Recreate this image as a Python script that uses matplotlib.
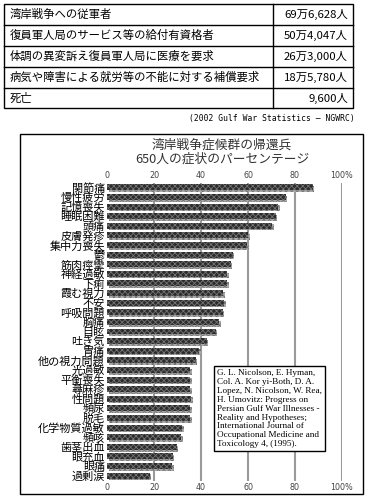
import matplotlib
matplotlib.use("Agg")
import matplotlib.pyplot as plt
import matplotlib.patheffects as pe
from matplotlib.patches import Rectangle

plt.rcParams['font.family'] = ['Noto Sans CJK JP', 'DejaVu Sans']
plt.rcParams['hatch.linewidth'] = 0.6

# table at the top
table_labels = ["湾岸戦争への従軍者",
                "復員軍人局のサービス等の給付有資格者",
                "体調の異変訴え復員軍人局に医療を要求",
                "病気や障害による就労等の不能に対する補償要求",
                "死亡"]
table_values = ["69万6,628人", "50万4,047人", "26万3,000人", "18万5,780人", "9,600人"]
source = "(2002 Gulf War Statistics — NGWRC)"

# bar chart
symptoms = ["関節痛", "慢性疲労", "記憶喪失", "睡眠困難", "頭痛", "皮膚発疹", "集中力喪失",
            "鬱", "筋肉痙攣", "神経過敏", "下痢", "霞む視力", "不安", "呼吸問題", "胸痛",
            "目眩", "吐き気", "胃痛", "他の視力問題", "光過敏", "平衡喪失", "蕁麻疹",
            "性問題", "頻尿", "脱毛", "化学物質過敏", "頻咳", "歯茎出血", "眼充血",
            "眼痛", "過剰涙"]
percent = [87.5, 76, 72.7, 71.8, 70.4, 60, 59.6,
           53.5, 52.6, 51, 51, 49.5, 49.8, 49.2, 47.8,
           46.2, 42.4, 39.2, 37.7, 35.4, 35.3, 35.5,
           35.7, 35.5, 35.4, 32.1, 31.5, 29.7, 27.9,
           27.7, 18.1]
xticks = [0, 20, 40, 60, 80, 100]
xticklabels = ["0", "20", "40", "60", "80", "100%"]
chart_title = "湾岸戦争症候群の帰還兵\n650人の症状のパーセンテージ"
reference = ("G. L. Nicolson, E. Hyman,\nCol. A. Kor yi-Both, D. A.\n"
             "Lopez, N. Nicolson, W. Rea,\nH. Umovitz: Progress on\n"
             "Persian Gulf War Illnesses -\nReality and Hypotheses;\n"
             "International Journal of\nOccupational Medicine and\n"
             "Toxicology 4, (1995).")

W, H = 368, 504
fig = plt.figure(figsize=(W / 100, H / 100), dpi=100)

# pixel overlay for table, frame and captions
ov = fig.add_axes([0, 0, 1, 1])
ov.set_xlim(0, W)
ov.set_ylim(H, 0)
ov.axis("off")

rows_y = [4, 25, 46, 67, 88, 108]
ov.add_patch(Rectangle((4, 4), 349, 104, fill=False, lw=1, ec="black"))
for y in rows_y[1:-1]:
    ov.plot([4, 353], [y, y], color="black", lw=1)
ov.plot([273, 273], [4, 108], color="black", lw=1)
for i, (lab, val) in enumerate(zip(table_labels, table_values)):
    yc = (rows_y[i] + rows_y[i + 1]) / 2
    ov.text(10, yc, lab, fontsize=8.2, va="center", ha="left")
    ov.text(348, yc, val, fontsize=8.2, va="center", ha="right")
ov.text(355, 118, source, fontsize=5.8, va="center", ha="right",
        family=["DejaVu Sans Mono"])

# chart frame
ov.add_patch(Rectangle((20, 134), 343, 360, fill=False, lw=1, ec="black"))
ov.text(222, 152, chart_title, fontsize=9.2, ha="center", va="center",
        color="#333333", linespacing=1.15)

# bar axes
ax = fig.add_axes([107 / W, 1 - 480.5 / H, 235 / W, 298 / H])
ax.set_zorder(2)
ax.patch.set_alpha(0)
ypos = list(range(len(symptoms)))
bars = ax.barh(ypos, percent, height=0.62, color="#2c2c2c", edgecolor="#747474",
               hatch="xxxxxx", linewidth=0, zorder=3)
for b in bars:
    b.set_path_effects([pe.SimplePatchShadow(offset=(1.2, -1.2), shadow_rgbFace="#aaaaaa", alpha=1),
                        pe.Normal()])
ax.set_xlim(0, 100)
ax.set_ylim(len(symptoms) - 0.5, -0.5)
ax.set_yticks(ypos)
ax.set_yticklabels(symptoms, fontsize=8.0)
ax.tick_params(axis="y", length=0, pad=1.5)
ax.set_xticks(xticks)
ax.set_xticklabels(xticklabels)
ax.tick_params(axis="x", length=0, labelsize=5.8, labelcolor="#444444", pad=2,
               top=True, labeltop=True)
for lab in ax.get_xticklabels():
    lab.set_family(["DejaVu Sans"])
for s in ax.spines.values():
    s.set_visible(False)
for x in xticks[1:]:
    ax.axvline(x, color="#9a9a9a", lw=1.5, zorder=1)

# reference box
ov.text(217, 369, reference, fontsize=6.6, ha="left", va="top", zorder=5,
        family=["Liberation Serif"], linespacing=1.15,
        bbox=dict(boxstyle="square,pad=0.35", fc="white", ec="black", lw=1))
ov.set_zorder(3)

fig.savefig("out.png", dpi=100)
